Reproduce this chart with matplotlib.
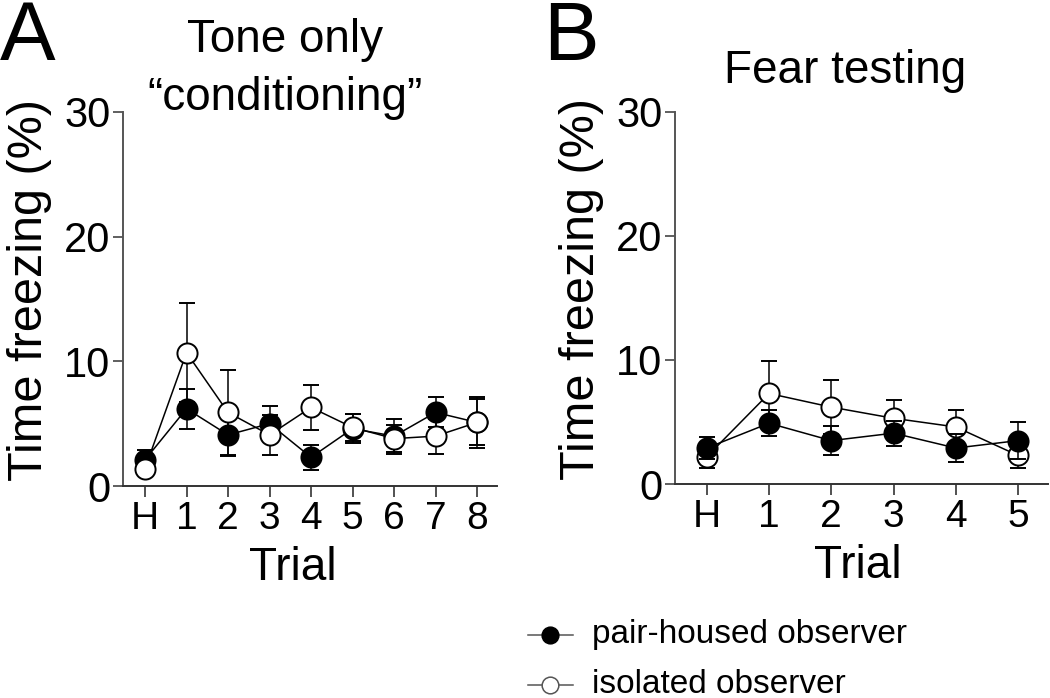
import matplotlib
matplotlib.use('Agg')
import matplotlib.pyplot as plt
from matplotlib.lines import Line2D

plt.rcParams['font.family'] = ['Liberation Sans', 'DejaVu Sans']

# ---- data ----
trials_a = ['H', '1', '2', '3', '4', '5', '6', '7', '8']
pair_a = [2.1, 6.2, 4.1, 5.0, 2.3, 4.6, 4.0, 5.9, 5.1]
pair_a_sem = [0.8, 1.6, 1.7, 1.4, 1.0, 1.15, 1.4, 1.2, 2.05]
iso_a = [1.4, 10.7, 5.9, 4.1, 6.3, 4.7, 3.8, 4.0, 5.1]
iso_a_sem = [0.5, 4.0, 3.4, 1.6, 1.8, 1.1, 1.1, 1.4, 1.85]

trials_b = ['H', '1', '2', '3', '4', '5']
pair_b = [2.9, 4.9, 3.5, 4.1, 2.9, 3.5]
pair_b_sem = [0.9, 1.05, 1.2, 1.0, 1.1, 1.5]
iso_b = [2.2, 7.3, 6.2, 5.3, 4.6, 2.3]
iso_b_sem = [0.9, 2.6, 2.2, 1.5, 1.4, 1.0]

yticks = [0, 10, 20, 30]
series_labels = ['pair-housed observer', 'isolated observer']

W, H = 1050, 698
fig = plt.figure(figsize=(W / 100, H / 100), dpi=100)


def px(x, y):
    return x / W, 1 - y / H


def style_axes(ax, trials, xlim, xlabel_x):
    ax.set_xlim(*xlim)
    ax.set_ylim(0, 30)
    ax.set_xticks(range(len(trials)))
    ax.set_xticklabels(trials)
    ax.set_yticks(yticks)
    for s in ['top', 'right']:
        ax.spines[s].set_visible(False)
    ax.spines['left'].set_color('#555555')
    ax.spines['left'].set_linewidth(1.4)
    ax.spines['bottom'].set_color('#333333')
    ax.spines['bottom'].set_linewidth(1.4)
    ax.tick_params(axis='y', direction='out', length=7, width=1.2,
                   color='#444444', pad=2, labelsize=30)
    ax.tick_params(axis='x', direction='out', length=8, width=1.2,
                   color='#333333', pad=3, labelsize=28)
    ax.set_ylabel('Time freezing (%)', fontsize=35)
    ax.set_xlabel('Trial', fontsize=33)
    ax.yaxis.set_label_coords(-0.19, 0.524)
    ax.xaxis.set_label_coords(xlabel_x, -0.16)


def plot_series(ax, x, y, e, filled, z):
    ax.errorbar(x, y, yerr=e, fmt='o-', color='black',
                mfc='black' if filled else 'white', mec='black',
                ms=14.5, mew=1.4, lw=1.1, elinewidth=1.1, capsize=6,
                capthick=1.1, clip_on=False, zorder=z)


# Panel A
axA = fig.add_axes([123 / W, (H - 486) / H, 374 / W, 374 / H])
xa = list(range(len(trials_a)))
plot_series(axA, xa, pair_a, pair_a_sem, True, 3)
plot_series(axA, xa, iso_a, iso_a_sem, False, 4)
style_axes(axA, trials_a, (-0.53, 8.48), 0.455)

# Panel B
axB = fig.add_axes([675 / W, (H - 484) / H, 373 / W, 372 / H])
xb = list(range(len(trials_b)))
plot_series(axB, xb, iso_b, iso_b_sem, False, 3)
plot_series(axB, xb, pair_b, pair_b_sem, True, 4)
style_axes(axB, trials_b, (-0.51, 5.48), 0.49)

# Titles and panel letters
fig.text(*px(285, 52), 'Tone only', ha='center', va='baseline', fontsize=33)
fig.text(*px(285, 110), '\u201cconditioning\u201d', ha='center', va='baseline', fontsize=33)
fig.text(*px(845, 83), 'Fear testing', ha='center', va='baseline', fontsize=33)
fig.text(*px(0, 60), 'A', ha='left', va='baseline', fontsize=60)
fig.text(*px(543, 60), 'B', ha='left', va='baseline', fontsize=60)

# Legend (drawn manually)
for i, (lab, filled) in enumerate(zip(series_labels, [True, False])):
    yc = 635 + 50 * i
    x0, y0 = px(528, yc)
    x1, _ = px(573, yc)
    xm, _ = px(550, yc)
    fig.add_artist(Line2D([x0, x1], [y0, y0], color='#555555', lw=1.1,
                          transform=fig.transFigure))
    fig.add_artist(Line2D([xm], [y0], marker='o', ms=12, mew=1.1,
                          mfc='black' if filled else 'white',
                          mec='black' if filled else '#555555',
                          transform=fig.transFigure))
    fig.text(*px(592, yc + 8), lab, ha='left', va='baseline', fontsize=24)

fig.savefig('out.png', dpi=100)
